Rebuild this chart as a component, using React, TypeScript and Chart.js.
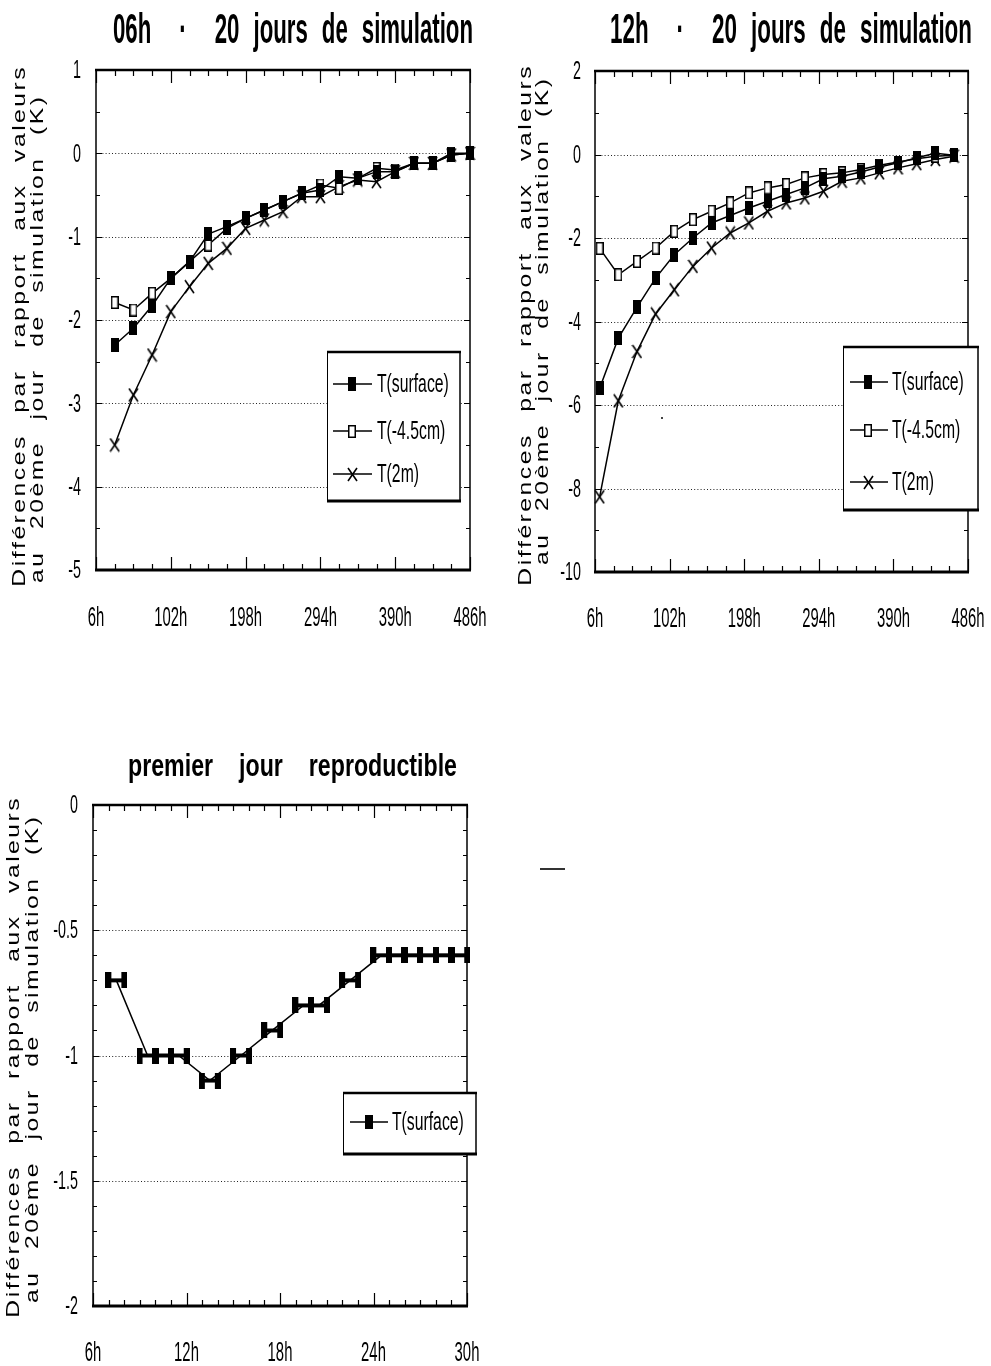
import { useEffect, useRef } from "react";
import { Chart, registerables } from "chart.js";

Chart.register(...registerables);

const FONT = '"Liberation Sans", Arial, Helvetica, sans-serif';

// ---------- Chart 1 : 06h - 20 jours de simulation ----------
const hours06 = [30, 54, 78, 102, 126, 150, 174, 198, 222, 246, 270, 294, 318, 342, 366, 390, 414, 438, 462, 486];
const surface06 = [-2.3, -2.1, -1.83, -1.5, -1.3, -0.97, -0.88, -0.78, -0.68, -0.58, -0.48, -0.44, -0.28, -0.3, -0.22, -0.22, -0.12, -0.12, -0.02, 0];
const depth06 = [-1.79, -1.88, -1.68, -1.5, -1.3, -1.1, -0.9, -0.78, -0.68, -0.58, -0.48, -0.38, -0.42, -0.3, -0.18, -0.2, -0.12, -0.12, 0, 0];
const air06 = [-3.5, -2.9, -2.42, -1.9, -1.6, -1.32, -1.14, -0.9, -0.8, -0.7, -0.52, -0.52, -0.4, -0.32, -0.34, -0.22, -0.12, -0.12, -0.02, 0];
const yTicks06 = [1, 0, -1, -2, -3, -4, -5];

// ---------- Chart 2 : 12h - 20 jours de simulation ----------
const hours12 = [12, 36, 60, 84, 108, 132, 156, 180, 204, 228, 252, 276, 300, 324, 348, 372, 396, 420, 444, 468];
const surface12 = [-5.6, -4.4, -3.66, -2.96, -2.4, -2.0, -1.64, -1.46, -1.28, -1.12, -0.96, -0.8, -0.58, -0.52, -0.42, -0.3, -0.2, -0.08, 0.03, -0.02];
const depth12 = [-2.25, -2.88, -2.56, -2.24, -1.84, -1.56, -1.36, -1.16, -0.92, -0.8, -0.72, -0.56, -0.48, -0.44, -0.36, -0.26, -0.18, -0.1, -0.04, -0.02];
const air12 = [-8.2, -5.9, -4.72, -3.82, -3.24, -2.68, -2.24, -1.88, -1.64, -1.36, -1.16, -1.04, -0.88, -0.64, -0.56, -0.44, -0.32, -0.22, -0.12, -0.04];
const yTicks12 = [2, 0, -2, -4, -6, -8, -10];

const xTicksLong = [6, 102, 198, 294, 390, 486];

// ---------- Chart 3 : premier jour reproductible ----------
const hoursDay1 = [7.5, 9.5, 10.5, 11.5, 13.5, 15.5, 17.5, 19.5, 20.5, 22.5, 24.5, 25.5, 26.5, 27.5, 28.5, 29.5];
const surfaceDay1 = [-0.7, -1, -1, -1, -1.1, -1, -0.9, -0.8, -0.8, -0.7, -0.6, -0.6, -0.6, -0.6, -0.6, -0.6];
const xTicksDay1 = [6, 12, 18, 24, 30];
const yTicksDay1 = [0, -0.5, -1, -1.5, -2];

const seriesLabels = ["T(surface)", "T(-4.5cm)", "T(2m)"];
const yTitleLines = ["Différences par rapport aux valeurs", "au 20ème jour de simulation (K)"];
const titles = ["06h  ·  20 jours de simulation", "12h  ·  20 jours de simulation", "premier  jour  reproductible"];

type MarkerKind = "filled" | "open" | "cross" | "H";

const markerCache: Record<string, HTMLCanvasElement> = {};
function marker(kind: MarkerKind): HTMLCanvasElement {
  if (markerCache[kind]) return markerCache[kind];
  const c = document.createElement("canvas");
  const g = c.getContext("2d")!;
  if (kind === "filled") {
    c.width = 8; c.height = 14;
    g.fillStyle = "#000"; g.fillRect(0, 0, 8, 14);
  } else if (kind === "open") {
    c.width = 8; c.height = 13;
    g.fillStyle = "#fff"; g.fillRect(0, 0, 8, 13);
    g.strokeStyle = "#000"; g.lineWidth = 1.5; g.strokeRect(0.75, 0.75, 6.5, 11.5);
  } else if (kind === "cross") {
    c.width = 11; c.height = 15;
    g.strokeStyle = "#000"; g.lineWidth = 1.6;
    g.beginPath(); g.moveTo(1, 1); g.lineTo(10, 14); g.moveTo(10, 1); g.lineTo(1, 14); g.stroke();
  } else {
    c.width = 22; c.height = 16;
    g.fillStyle = "#000";
    g.fillRect(0, 0, 6, 16); g.fillRect(16, 0, 6, 16); g.fillRect(0, 6, 22, 4);
  }
  markerCache[kind] = c;
  return c;
}

type TextOpts = {
  size: number; bold?: boolean; sx: number; gap: number; ls?: number;
  align: "left" | "center" | "right"; base?: CanvasTextBaseline;
};

function drawWords(ctx: CanvasRenderingContext2D, text: string, x: number, y: number, o: TextOpts) {
  ctx.save();
  ctx.font = `${o.bold ? "bold " : ""}${o.size}px ${FONT}`;
  ctx.fillStyle = "#000";
  ctx.textAlign = "left";
  ctx.textBaseline = o.base || "alphabetic";
  const ls = o.ls || 0;
  const words = text.split(" ");
  const wordWidth = (w: string) => {
    if (!w) return 0;
    if (!ls) return ctx.measureText(w).width * o.sx;
    let t = 0;
    for (const ch of w) t += ctx.measureText(ch).width * o.sx + ls;
    return t - ls;
  };
  const ws = words.map(wordWidth);
  const total = ws.reduce((a, b) => a + b, 0) + (words.length - 1) * o.gap;
  let cx = o.align === "left" ? x : o.align === "center" ? x - total / 2 : x - total;
  words.forEach((w, i) => {
    if (w) {
      if (!ls) {
        ctx.save(); ctx.translate(cx, y); ctx.scale(o.sx, 1); ctx.fillText(w, 0, 0); ctx.restore();
      } else {
        let px = cx;
        for (const ch of w) {
          ctx.save(); ctx.translate(px, y); ctx.scale(o.sx, 1); ctx.fillText(ch, 0, 0); ctx.restore();
          px += ctx.measureText(ch).width * o.sx + ls;
        }
      }
    }
    cx += ws[i] + o.gap;
  });
  ctx.restore();
}

function drawFitted(ctx: CanvasRenderingContext2D, text: string, x: number, y: number, width: number, size: number, gap: number) {
  ctx.save();
  ctx.font = `bold ${size}px ${FONT}`;
  const words = text.split(" ");
  const natural = words.reduce((a, w) => a + (w ? ctx.measureText(w).width : 0), 0);
  ctx.restore();
  const sx = (width - (words.length - 1) * gap) / natural;
  drawWords(ctx, text, x, y, { size, bold: true, sx, gap, align: "left" });
}

type Series = { label: string; xs: number[]; ys: number[]; kind: MarkerKind; legendKind: MarkerKind };
type Cfg = {
  left: number; top: number; width: number; height: number;
  padTop: number; padRight: number; yAxisW: number; xAxisH: number;
  xMin: number; xMax: number; xTicks: number[]; xMinor: number; xMajor: number;
  yMin: number; yMax: number; yTicks: number[]; yMinor: number;
  title: string; titleX: number; titleW: number; titleSize: number; titleBase: number; titleGap: number;
  yT1X: number; yT2X: number; yT1C: number; yT2C: number;
  xLabelBase: number; yLabelGap: number;
  legend: { x: number; y: number; w: number; h: number; rows: number[]; l1: number; l2: number; mx: number; tx: number };
  series: Series[];
};

function decorPlugin(cfg: Cfg) {
  return {
    id: "decor",
    beforeDatasetsDraw(chart: any) {
      const { ctx, chartArea: a } = chart;
      const y = chart.scales.y;
      ctx.save();
      ctx.strokeStyle = "#222";
      ctx.lineWidth = 1;
      ctx.setLineDash([1, 2.2]);
      cfg.yTicks.forEach((v) => {
        if (v === cfg.yMin || v === cfg.yMax) return;
        const py = Math.round(y.getPixelForValue(v)) + 0.5;
        ctx.beginPath(); ctx.moveTo(a.left, py); ctx.lineTo(a.right, py); ctx.stroke();
      });
      ctx.restore();
    },
    afterDatasetsDraw(chart: any) {
      const { ctx, chartArea: a } = chart;
      const x = chart.scales.x, y = chart.scales.y;
      ctx.save();
      ctx.strokeStyle = "#000";
      ctx.lineWidth = 1.2;
      const nx = Math.round((cfg.xMax - cfg.xMin) / cfg.xMinor);
      for (let i = 0; i <= nx; i++) {
        const v = cfg.xMin + i * cfg.xMinor;
        const r = (v - cfg.xMin) / cfg.xMajor;
        const major = Math.abs(r - Math.round(r)) < 1e-6;
        const len = major ? 13 : 6;
        const px = Math.round(x.getPixelForValue(v)) + 0.5;
        ctx.beginPath();
        ctx.moveTo(px, a.top); ctx.lineTo(px, a.top + len);
        ctx.moveTo(px, a.bottom); ctx.lineTo(px, a.bottom - len);
        ctx.stroke();
      }
      const ny = Math.round((cfg.yMax - cfg.yMin) / cfg.yMinor);
      for (let i = 0; i <= ny; i++) {
        const v = cfg.yMin + i * cfg.yMinor;
        const major = cfg.yTicks.some((t) => Math.abs(t - v) < 1e-6);
        const len = major ? 6 : 4;
        const py = Math.round(y.getPixelForValue(v)) + 0.5;
        ctx.beginPath();
        ctx.moveTo(a.left, py); ctx.lineTo(a.left + len, py);
        ctx.moveTo(a.right, py); ctx.lineTo(a.right - len, py);
        ctx.stroke();
      }
      ctx.lineWidth = 1.5;
      ctx.beginPath(); ctx.moveTo(a.left, a.top); ctx.lineTo(a.left, a.bottom); ctx.stroke();
      ctx.beginPath(); ctx.moveTo(a.right, a.top); ctx.lineTo(a.right, a.bottom); ctx.stroke();
      ctx.lineWidth = 2.5;
      ctx.beginPath(); ctx.moveTo(a.left - 1, a.top); ctx.lineTo(a.right + 1, a.top); ctx.stroke();
      ctx.lineWidth = 3;
      ctx.beginPath(); ctx.moveTo(a.left - 1, a.bottom); ctx.lineTo(a.right + 1, a.bottom); ctx.stroke();
      ctx.restore();
    },
    afterDraw(chart: any) {
      const { ctx, chartArea: a } = chart;
      const x = chart.scales.x, y = chart.scales.y;
      cfg.xTicks.forEach((v) => {
        drawWords(ctx, `${v}h`, x.getPixelForValue(v), cfg.xLabelBase, { size: 28, sx: 0.53, gap: 0, align: "center" });
      });
      cfg.yTicks.forEach((v) => {
        drawWords(ctx, String(v), a.left - cfg.yLabelGap, y.getPixelForValue(v) + 1, { size: 26, sx: 0.55, gap: 0, align: "right", base: "middle" });
      });
      drawFitted(ctx, cfg.title, cfg.titleX, cfg.titleBase, cfg.titleW, cfg.titleSize, cfg.titleGap);
      const lines: [string, number, number][] = [
        [yTitleLines[0], cfg.yT1X, cfg.yT1C],
        [yTitleLines[1], cfg.yT2X, cfg.yT2C],
      ];
      lines.forEach(([t, bx, cy]) => {
        ctx.save();
        ctx.translate(bx, cy);
        ctx.rotate(-Math.PI / 2);
        drawWords(ctx, t, 0, 0, { size: 19, sx: 1.3, ls: 2.5, gap: 24, align: "center" });
        ctx.restore();
      });
      const L = cfg.legend;
      ctx.save();
      ctx.fillStyle = "#fff";
      ctx.fillRect(L.x, L.y, L.w, L.h);
      ctx.strokeStyle = "#000";
      ctx.lineWidth = 1;
      ctx.beginPath(); ctx.moveTo(L.x + 0.5, L.y); ctx.lineTo(L.x + 0.5, L.y + L.h); ctx.stroke();
      ctx.lineWidth = 1.5;
      ctx.beginPath(); ctx.moveTo(L.x + L.w, L.y); ctx.lineTo(L.x + L.w, L.y + L.h); ctx.stroke();
      ctx.lineWidth = 2.5;
      ctx.beginPath(); ctx.moveTo(L.x, L.y); ctx.lineTo(L.x + L.w + 1, L.y); ctx.stroke();
      ctx.lineWidth = 3;
      ctx.beginPath(); ctx.moveTo(L.x, L.y + L.h); ctx.lineTo(L.x + L.w + 1, L.y + L.h); ctx.stroke();
      cfg.series.forEach((s, i) => {
        const ry = L.rows[i];
        ctx.lineWidth = 1.5;
        ctx.beginPath(); ctx.moveTo(L.l1, ry); ctx.lineTo(L.l2, ry); ctx.stroke();
        const m = marker(s.legendKind);
        ctx.drawImage(m, Math.round(L.mx - m.width / 2), Math.round(ry - m.height / 2));
        drawWords(ctx, s.label, L.tx, ry + 1, { size: 25, sx: 0.63, gap: 0, align: "left", base: "middle" });
      });
      ctx.restore();
    },
  };
}

function Plot({ cfg }: { cfg: Cfg }) {
  const ref = useRef<HTMLCanvasElement>(null);
  useEffect(() => {
    const canvas = ref.current!;
    const chart = new Chart(canvas, {
      type: "line",
      data: {
        datasets: cfg.series.map((s) => ({
          label: s.label,
          data: s.xs.map((xv, i) => ({ x: xv, y: s.ys[i] })),
          borderColor: "#000",
          borderWidth: 1.5,
          pointStyle: marker(s.kind) as any,
          pointRadius: 5,
          pointHoverRadius: 5,
          tension: 0,
          fill: false,
          clip: false as any,
        })),
      },
      options: {
        responsive: false,
        animation: false,
        events: [],
        layout: { padding: { top: cfg.padTop, right: cfg.padRight, left: 0, bottom: 0 } },
        plugins: { legend: { display: false }, title: { display: false }, tooltip: { enabled: false } },
        scales: {
          x: {
            type: "linear",
            min: cfg.xMin,
            max: cfg.xMax,
            grid: { display: false },
            border: { display: false },
            ticks: { display: false },
            afterBuildTicks: (s: any) => { s.ticks = cfg.xTicks.map((v) => ({ value: v })); },
            afterFit: (s: any) => { s.height = cfg.xAxisH; },
          },
          y: {
            type: "linear",
            min: cfg.yMin,
            max: cfg.yMax,
            grid: { display: false },
            border: { display: false },
            ticks: { display: false },
            afterBuildTicks: (s: any) => { s.ticks = cfg.yTicks.map((v) => ({ value: v })); },
            afterFit: (s: any) => { s.width = cfg.yAxisW; },
          },
        },
      } as any,
      plugins: [decorPlugin(cfg) as any],
    });
    return () => chart.destroy();
  }, [cfg]);
  return (
    <canvas
      ref={ref}
      width={cfg.width}
      height={cfg.height}
      style={{ position: "absolute", left: cfg.left, top: cfg.top, width: cfg.width, height: cfg.height }}
    />
  );
}

const cfg06: Cfg = {
  left: 0, top: 0, width: 495, height: 640,
  padTop: 70, padRight: 25, yAxisW: 96, xAxisH: 70,
  xMin: 6, xMax: 486, xTicks: xTicksLong, xMinor: 24, xMajor: 96,
  yMin: -5, yMax: 1, yTicks: yTicks06, yMinor: 0.5,
  title: titles[0], titleX: 113, titleW: 360, titleSize: 42, titleBase: 43, titleGap: 14,
  yT1X: 25, yT2X: 43, yT1C: 327, yT2C: 340,
  xLabelBase: 626, yLabelGap: 15,
  legend: { x: 327, y: 352, w: 133, h: 149, rows: [384, 431, 474], l1: 333, l2: 372, mx: 352, tx: 377 },
  series: [
    { label: seriesLabels[0], xs: hours06, ys: surface06, kind: "filled", legendKind: "filled" },
    { label: seriesLabels[1], xs: hours06, ys: depth06, kind: "open", legendKind: "open" },
    { label: seriesLabels[2], xs: hours06, ys: air06, kind: "cross", legendKind: "cross" },
  ],
};

const cfg12: Cfg = {
  left: 495, top: 0, width: 496, height: 640,
  padTop: 71, padRight: 23, yAxisW: 100, xAxisH: 68,
  xMin: 6, xMax: 486, xTicks: xTicksLong, xMinor: 24, xMajor: 96,
  yMin: -10, yMax: 2, yTicks: yTicks12, yMinor: 1,
  title: titles[1], titleX: 115, titleW: 362, titleSize: 42, titleBase: 43, titleGap: 14,
  yT1X: 36, yT2X: 53, yT1C: 326, yT2C: 322,
  xLabelBase: 627, yLabelGap: 14,
  legend: { x: 348, y: 347, w: 135, h: 163, rows: [382, 430, 482], l1: 355, l2: 393, mx: 373, tx: 397 },
  series: [
    { label: seriesLabels[0], xs: hours12, ys: surface12, kind: "filled", legendKind: "filled" },
    { label: seriesLabels[1], xs: hours12, ys: depth12, kind: "open", legendKind: "open" },
    { label: seriesLabels[2], xs: hours12, ys: air12, kind: "cross", legendKind: "cross" },
  ],
};

const cfgDay1: Cfg = {
  left: 0, top: 740, width: 495, height: 626,
  padTop: 65, padRight: 28, yAxisW: 93, xAxisH: 60,
  xMin: 6, xMax: 30, xTicks: xTicksDay1, xMinor: 1, xMajor: 6,
  yMin: -2, yMax: 0, yTicks: yTicksDay1, yMinor: 0.1,
  title: titles[2], titleX: 128, titleW: 329, titleSize: 32, titleBase: 36, titleGap: 13,
  yT1X: 19, yT2X: 38, yT1C: 318, yT2C: 320,
  xLabelBase: 621, yLabelGap: 15,
  legend: { x: 343, y: 353, w: 133, h: 61, rows: [382], l1: 350, l2: 388, mx: 369, tx: 392 },
  series: [
    { label: seriesLabels[0], xs: hoursDay1, ys: surfaceDay1, kind: "H", legendKind: "filled" },
  ],
};

export default function App() {
  return (
    <div style={{ position: "absolute", left: 0, top: 0, width: 991, height: 1366, background: "#fff", overflow: "hidden" }}>
      <Plot cfg={cfg06} />
      <Plot cfg={cfg12} />
      <Plot cfg={cfgDay1} />
      <div style={{ position: "absolute", left: 540, top: 868, width: 25, height: 1.5, background: "#333" }} />
      <div style={{ position: "absolute", left: 661, top: 417, width: 2, height: 2, background: "#444" }} />
    </div>
  );
}
